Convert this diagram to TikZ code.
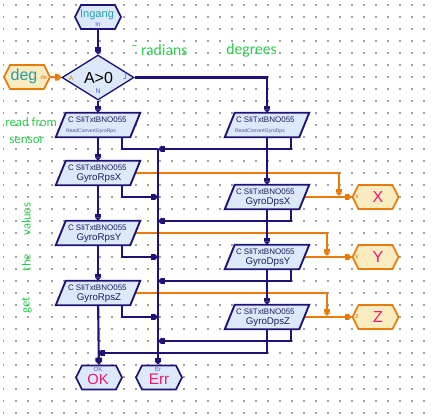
\documentclass[tikz,border=0pt]{standalone}
\usepackage{fontspec}
\setmainfont{Liberation Sans}
\newfontfamily\gfont{Carlito}
\usetikzlibrary{shapes.geometric,shapes.symbols,arrows.meta,calc}
\definecolor{navy}{RGB}{30,18,120}
\definecolor{boxfill}{RGB}{220,233,251}
\definecolor{orng}{RGB}{232,122,10}
\definecolor{yfill}{RGB}{250,235,192}
\definecolor{grn}{RGB}{46,204,80}
\definecolor{crim}{RGB}{240,24,110}
\definecolor{tealc}{RGB}{36,160,168}
\definecolor{lblue}{RGB}{80,80,200}
\definecolor{dotc}{RGB}{160,160,160}
\definecolor{boxtxt}{RGB}{30,30,90}
\definecolor{tinytxt}{RGB}{80,80,150}
\pgfdeclarelayer{grid}\pgfdeclarelayer{wires}
\pgfsetlayers{grid,wires,main}
\tikzset{
  hexb/.style={signal, signal to=east and west, signal pointer angle=127,
    minimum width=34.5pt, minimum height=18pt, inner sep=0pt,
    draw=navy, line width=1.3pt, fill=boxfill},
  hexy/.style={hexb, draw=orng, fill=yfill},
  para/.style={rectangle, minimum width=55.5pt, minimum height=18pt, inner sep=0pt},
  parashape/.style={draw=navy, line width=1.4pt, fill=boxfill, line join=miter},
  dia/.style={diamond, aspect=1.6, minimum width=54pt, minimum height=33.75pt,
    inner sep=0pt, draw=navy, line width=1pt, fill=boxfill},
  wire/.style={draw=navy, line width=1.6pt},
  owire/.style={draw=orng, line width=1.5pt},
  arr/.style={-{Square[length=2.6pt,width=5pt,sep=0pt]Triangle[length=2.6pt,width=5pt]}},
  ctext/.style={inner sep=0pt, anchor=west, text=boxtxt, font=\fontsize{6pt}{7pt}\selectfont},
  ttext/.style={inner sep=0pt, anchor=west, text=tinytxt, font=\fontsize{3.8pt}{4.5pt}\selectfont},
  ntext/.style={inner sep=0pt, text=boxtxt, font=\fontsize{7.3pt}{8pt}\selectfont},
  small/.style={inner sep=0pt, font=\fontsize{5pt}{6pt}\selectfont},
  big/.style={inner sep=0pt, text=crim, font=\fontsize{12pt}{14pt}\selectfont},
  green/.style={inner sep=0pt, text=grn},
}
\newcommand\paradraw[1]{\filldraw[parashape] ($(#1.north west)+(5,0)$) -- ($(#1.north east)+(5,0)$) -- ($(#1.south east)+(-5,0)$) -- ($(#1.south west)+(-5,0)$) -- cycle;}
\begin{document}
\begin{tikzpicture}[x=0.75pt,y=-0.75pt]
\useasboundingbox (0,0) rectangle (433,418);
\begin{pgfonlayer}{grid}
\fill[white] (0,0) rectangle (433,418);
\foreach \i in {0,...,35}{\foreach \j in {0,...,34}{
  \fill[dotc] (3.4+12*\i,4.4+12*\j) rectangle ++(1.1,1.1);}}
\end{pgfonlayer}

% ---- shapes
\node[hexb] (ingang) at (98,17) {};
\node[dia] (dia) at (98,77.5) {};
\node[hexy] (deg) at (27,77) {};
\node[para] (rps0) at (98,125) {};
\node[para] (rpsX) at (98,173) {};
\node[para] (rpsY) at (98,233) {};
\node[para] (rpsZ) at (98,293) {};
\node[para] (dps0) at (267,125) {};
\node[para] (dpsX) at (267,197) {};
\node[para] (dpsY) at (267,257) {};
\node[para] (dpsZ) at (267,317) {};
\foreach \n in {rps0,rpsX,rpsY,rpsZ,dps0,dpsX,dpsY,dpsZ}{\paradraw{\n}}
\node[hexy] (hx) at (375.5,197) {};
\node[hexy] (hy) at (375.5,257) {};
\node[hexy] (hz) at (375.5,317) {};
\node[hexb] (ok) at (99,377.5) {};
\node[hexb] (err) at (159,377.5) {};

% ---- texts in shapes
\node[inner sep=0pt, text=tealc, font=\fontsize{8.3pt}{9pt}\selectfont] (tIngang) at (97,14.5) {Ingang};
\node[small, text=lblue, font=\fontsize{4.5pt}{5pt}\selectfont] (tIn) at (98,24.5) {In};
\node[inner sep=0pt, font=\fontsize{12pt}{14pt}\selectfont] (tA0) at (98.5,77.5) {A>0};
\node[small, text=orng] (tA) at (71,78) {A};
\node[small, text=lblue] (tJ) at (125,77) {J};
\node[small, text=lblue] (tN) at (98,91) {N};
\node[inner sep=0pt, text=tealc, font=\fontsize{12pt}{14pt}\selectfont] (tdeg) at (24,76) {deg};
\node[small, text=orng, font=\fontsize{4.5pt}{5pt}\selectfont] (tde) at (44,77) {de};

\node[ctext] (c0) at ($(rps0.north west)+(7,7)$) {C SliTxtBNO055};
\node[ttext] (c0b) at ($(rps0.north west)+(5,18.5)$) {ReadConvertGyroRps};
\node[ctext] (c1) at ($(rpsX.north west)+(7,7)$) {C SliTxtBNO055};
\node[ntext] (c1b) at ($(rpsX.center)+(1,5.5)$) {GyroRpsX};
\node[ctext] (c2) at ($(rpsY.north west)+(7,7)$) {C SliTxtBNO055};
\node[ntext] (c2b) at ($(rpsY.center)+(1,5.5)$) {GyroRpsY};
\node[ctext] (c3) at ($(rpsZ.north west)+(7,7)$) {C SliTxtBNO055};
\node[ntext] (c3b) at ($(rpsZ.center)+(1,5.5)$) {GyroRpsZ};
\node[ctext] (d0) at ($(dps0.north west)+(6,7)$) {C SliTxtBNO055};
\node[ttext] (d0b) at ($(dps0.north west)+(5,18.5)$) {ReadConvertGyroDps};
\node[ctext] (d1) at ($(dpsX.north west)+(6,7)$) {C SliTxtBNO055};
\node[ntext] (d1b) at ($(dpsX.center)+(1,5.5)$) {GyroDpsX};
\node[ctext] (d2) at ($(dpsY.north west)+(6,7)$) {C SliTxtBNO055};
\node[ntext] (d2b) at ($(dpsY.center)+(1,5.5)$) {GyroDpsY};
\node[ctext] (d3) at ($(dpsZ.north west)+(6,7)$) {C SliTxtBNO055};
\node[ntext] (d3b) at ($(dpsZ.center)+(1,5.5)$) {GyroDpsZ};

\node[big] (tX) at (378,197) {X};
\node[small, text=orng] (tx) at (357,197) {x};
\node[big] (tY) at (378,257) {Y};
\node[small, text=orng] (ty) at (357,257) {Y};
\node[big] (tZ) at (378,317) {Z};
\node[small, text=orng] (tz) at (357,317) {z};

\node[small, text=lblue, font=\fontsize{4.5pt}{5pt}\selectfont] (tok) at (98,369.5) {OK};
\node[big, font=\fontsize{11pt}{13pt}\selectfont] (tOK) at (98,379) {OK};
\node[small, text=lblue, font=\fontsize{4.5pt}{5pt}\selectfont] (ter) at (158,369.5) {Er};
\node[big, font=\fontsize{11.5pt}{13pt}\selectfont] (tErr) at (159,379) {Err};

% ---- green annotations
\node[green, anchor=base west, font=\gfont\fontsize{11.8pt}{13pt}\selectfont] (trad) at (131,55) {¯ radians};
\node[green, anchor=base west, font=\gfont\fontsize{11.8pt}{13pt}\selectfont] (tdegr) at (226,54) {degrees};
\node[green, anchor=base west, font=\gfont\fontsize{9.6pt}{12pt}\selectfont] (tread) at (5,126) {read from};
\node[green, anchor=base west, font=\gfont\fontsize{9.8pt}{12pt}\selectfont] (tsens) at (9,143) {sensor};
\node[green, rotate=90, anchor=base, font=\gfont\fontsize{9.5pt}{12pt}\selectfont] (tval) at (30.5,219) {values};
\node[green, rotate=90, anchor=base, font=\gfont\fontsize{9.5pt}{12pt}\selectfont] (tthe) at (30.5,262.5) {the};
\node[green, rotate=90, anchor=base, font=\gfont\fontsize{9.5pt}{12pt}\selectfont] (tget) at (29.5,305) {get};

% ---- connectors
\coordinate (jx) at (339,197);
\coordinate (jy) at (327,257);
\coordinate (jz) at (327,317);
\coordinate (okj) at (98,353);
\coordinate (b0) at (158,149);
\coordinate (b1) at (158,197);
\coordinate (b2) at (158,221);
\coordinate (b3) at (158,257);
\coordinate (b4) at (158,281);
\coordinate (b5) at (158,317);
\coordinate (b6) at (158,341);
\begin{pgfonlayer}{wires}
\draw[owire,arr] (deg) -- (dia);
\draw[owire,arr] (rpsX.east) -| ([yshift=0.9pt]jx);
\draw[owire,arr] (rpsY.east) -| ([yshift=0.9pt]jy);
\draw[owire,arr] (rpsZ.east) -| ([yshift=0.9pt]jz);
\draw[owire,arr] (dpsX) -- (hx);
\draw[owire,arr] (dpsY) -- (hy);
\draw[owire,arr] (dpsZ) -- (hz);

\draw[wire,arr] (ingang) -- (dia);
\draw[wire,arr] (dia) -- (rps0);
\draw[wire,arr] (dia) -| (dps0);
\draw[wire,arr] (rps0) -- (rpsX);
\draw[wire,arr] (rpsX) -- (rpsY);
\draw[wire,arr] (rpsY) -- (rpsZ);
\draw[wire,arr] (rpsZ) -- (ok);
\draw[wire,arr] (dps0) -- (dpsX);
\draw[wire,arr] (dpsX) -- (dpsY);
\draw[wire,arr] (dpsY) -- (dpsZ);
\draw[wire,arr] (dpsZ) |- (okj);

\draw[wire] ($(rps0.south east)+(-13,0)$) |- (b0);
\draw[wire,arr] ($(dps0.south east)+(-13,0)$) |- (b0);
\draw[wire,arr] ($(rpsX.south east)+(-13,0)$) |- (b1);
\draw[wire,arr] ($(dpsX.south east)+(-13,0)$) |- (b2);
\draw[wire,arr] ($(rpsY.south east)+(-13,0)$) |- (b3);
\draw[wire,arr] ($(dpsY.south east)+(-13,0)$) |- (b4);
\draw[wire,arr] ($(rpsZ.south east)+(-13,0)$) |- (b5);
\draw[wire,arr] ($(dpsZ.south east)+(-13,0)$) |- (b6);
\draw[wire,arr] (b0) -- (b0 |- err.north);
\end{pgfonlayer}
\end{tikzpicture}
\end{document}
